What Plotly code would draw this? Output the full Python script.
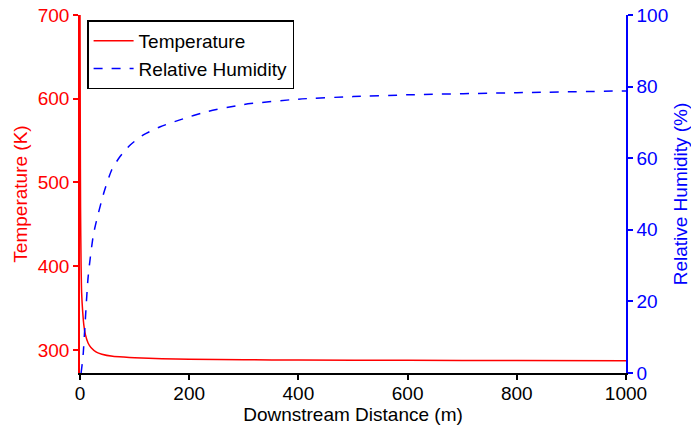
import plotly.graph_objects as go

# Temperature (K) vs downstream distance (m)
t_dist = [0, 0.5, 1, 2, 3, 5, 7, 10, 15, 20, 30, 40, 60, 80, 100, 150, 200, 300, 400, 600, 800, 1000]
t_vals = [700, 560, 470, 400, 368, 345, 330, 318, 308, 303, 297.5, 295, 292.5, 291.5, 290.8, 289.6, 289, 288.3, 288, 287.6, 287.3, 287]

# Relative humidity (%) vs downstream distance (m)
rh_dist = [2, 4, 6, 9, 15, 25, 43, 58, 73, 92, 116, 147, 183, 232, 300, 400, 500, 600, 800, 1000]
rh_vals = [0, 2.5, 5.6, 13, 27, 39, 50, 56.7, 60.4, 63.7, 66.5, 68.8, 70.7, 73, 75, 76.5, 77.2, 77.7, 78.3, 78.8]

x_ticks = [0, 200, 400, 600, 800, 1000]
t_ticks = [300, 400, 500, 600, 700]
rh_ticks = [0, 20, 40, 60, 80, 100]

FONT = "Liberation Sans, Arial, Helvetica, sans-serif"
FS = 19

fig = go.Figure()
fig.add_trace(go.Scatter(x=t_dist, y=t_vals, mode="lines", name="Temperature",
                         line=dict(color="#ff0000", width=1.5, shape="spline", smoothing=0.6),
                         yaxis="y"))
fig.add_trace(go.Scatter(x=rh_dist, y=rh_vals, mode="lines", name="Relative Humidity",
                         line=dict(color="#0000ff", width=1.5, dash="dash", shape="spline", smoothing=0.6),
                         yaxis="y2"))

fig.update_layout(
    template="none",
    width=691, height=425,
    margin=dict(l=80, r=65, t=15, b=52, pad=0),
    plot_bgcolor="white", paper_bgcolor="white",
    font=dict(family=FONT, size=FS, color="black"),
    showlegend=True,
    legend=dict(x=0.013, y=0.985, xanchor="left", yanchor="top",
                bordercolor="black", borderwidth=1.5, bgcolor="white",
                itemwidth=40,
                font=dict(size=FS, color="black"), tracegroupgap=0),
    xaxis=dict(range=[0, 1000], tickvals=x_ticks, showgrid=False, zeroline=False, automargin=False,
               showline=True, linecolor="black", linewidth=1.5,
               ticks="outside", ticklen=5, tickwidth=1.5, tickcolor="black",
               ticklabelstandoff=-3,
               tickfont=dict(size=FS, color="black"),
               title=dict(text="Downstream Distance (m)", font=dict(size=FS, color="black"), standoff=0)),
    yaxis=dict(range=[272.5, 700], tickvals=t_ticks, showgrid=False, zeroline=False, automargin=False,
               showline=True, linecolor="#ff0000", linewidth=1.5,
               ticks="outside", ticklen=5, tickwidth=1.5, tickcolor="#ff0000",
               tickfont=dict(size=FS, color="#ff0000"),
               title=dict(text="Temperature (K)", font=dict(size=FS, color="#ff0000"), standoff=5)),
    yaxis2=dict(range=[0, 100], tickvals=rh_ticks, overlaying="y", side="right", automargin=False,
                showgrid=False, zeroline=False,
                showline=True, linecolor="#0000ff", linewidth=1.5,
                ticks="outside", ticklen=5, tickwidth=1.5, tickcolor="#0000ff",
                tickfont=dict(size=FS, color="#0000ff"),
                title=dict(text="Relative Humidity (%)", font=dict(size=FS, color="#0000ff"), standoff=10)),
)

fig.write_html("out.html")
